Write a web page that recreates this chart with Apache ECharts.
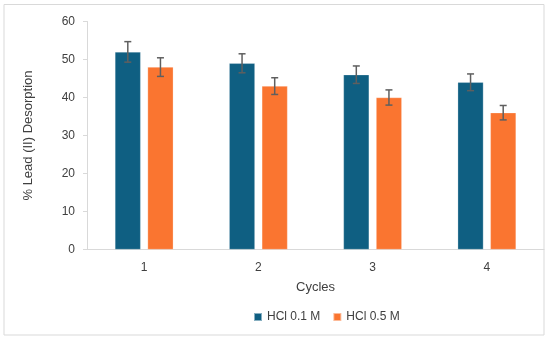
<!DOCTYPE html>
<html><head><meta charset="utf-8">
<script src="https://cdn.jsdelivr.net/npm/echarts@6/dist/echarts.min.js"></script>
<style>html,body{margin:0;padding:0;background:#fff}#c{width:550px;height:341px}</style>
</head><body><div id="c"></div>
<script>
const categories = ['1', '2', '3', '4'];
const seriesNames = ['HCl 0.1 M', 'HCl 0.5 M'];
const hcl01 = [52, 49, 46, 44];
const hcl05 = [48, 43, 40, 36];
const err01 = [2.7, 2.5, 2.3, 2.2];
const err05 = [2.45, 2.2, 2.0, 1.9];
const yTicks = [0, 10, 20, 30, 40, 50, 60];

const colors = ['#0F5F82', '#FA7530'];
const FONT = 'Liberation Sans, Arial, sans-serif';
const BW = 0.225; // bar width fraction of band
const GAP = 0.27;

function errSeries(vals, errs, sideSign) {
  return {
    type: 'custom',
    z: 5,
    silent: true,
    data: vals.map((v, i) => [i, v, errs[i]]),
    renderItem: function (params, api) {
      const i = api.value(0), v = api.value(1), e = api.value(2);
      const band = api.size([1, 0])[0];
      const bw = band * BW;
      const off = sideSign * (bw + bw * GAP) / 2;
      const top = api.coord([i, v + e]);
      const bot = api.coord([i, v - e]);
      const x = top[0] + off;
      const cap = 3.5;
      const st = { stroke: '#5f5f5f', lineWidth: 1.5, fill: null };
      return {
        type: 'group',
        children: [
          { type: 'line', shape: { x1: x, y1: top[1], x2: x, y2: bot[1] }, style: st },
          { type: 'line', shape: { x1: x - cap, y1: top[1], x2: x + cap, y2: top[1] }, style: st },
          { type: 'line', shape: { x1: x - cap, y1: bot[1], x2: x + cap, y2: bot[1] }, style: st }
        ]
      };
    }
  };
}

const chart = echarts.init(document.getElementById('c'));
chart.setOption({
  animation: false,
  textStyle: { fontFamily: FONT },
  graphic: [{
    type: 'rect', shape: { x: 4, y: 4.5, width: 540, height: 330.5 },
    style: { fill: null, stroke: '#d9d9d9', lineWidth: 1 }, z: -10
  }],
  grid: { left: 87, right: 6, top: 21.5, bottom: 91.5, containLabel: false },
  legend: {
    data: seriesNames.map(n => ({ name: n, icon: 'rect' })),
    top: 306, left: 248,
    itemWidth: 8, itemHeight: 8, itemGap: 12,
    textStyle: { fontSize: 12, color: '#404040', fontFamily: FONT }
  },
  xAxis: {
    type: 'category', data: categories,
    name: 'Cycles', nameLocation: 'middle', nameGap: 31,
    nameTextStyle: { fontSize: 13, color: '#404040' },
    axisLine: { lineStyle: { color: '#d9d9d9', width: 1 } },
    axisTick: { show: false },
    axisLabel: { fontSize: 12, color: '#404040', margin: 12 }
  },
  yAxis: {
    type: 'value', min: 0, max: 60, interval: 10,
    name: '% Lead (II) Desorption', nameLocation: 'middle', nameGap: 52,
    nameRotate: 90,
    nameTextStyle: { fontSize: 13, color: '#404040' },
    axisLine: { show: true, lineStyle: { color: '#d9d9d9', width: 1 } },
    axisTick: { show: true, length: 4, lineStyle: { color: '#d9d9d9' } },
    splitLine: { show: false },
    axisLabel: { fontSize: 12, color: '#404040', margin: 12,
      formatter: v => (yTicks.indexOf(v) >= 0 ? String(v) : '') }
  },
  series: [
    { name: seriesNames[0], type: 'bar', data: hcl01, barWidth: (BW * 100) + '%', barGap: (GAP * 100) + '%',
      itemStyle: { color: colors[0], borderColor: 'rgba(255,255,255,0.5)', borderWidth: 0.5 } },
    { name: seriesNames[1], type: 'bar', data: hcl05, barWidth: (BW * 100) + '%', barGap: (GAP * 100) + '%',
      itemStyle: { color: colors[1], borderColor: 'rgba(255,255,255,0.5)', borderWidth: 0.5 } },
    errSeries(hcl01, err01, -1),
    errSeries(hcl05, err05, 1)
  ]
});
</script>
</body></html>
